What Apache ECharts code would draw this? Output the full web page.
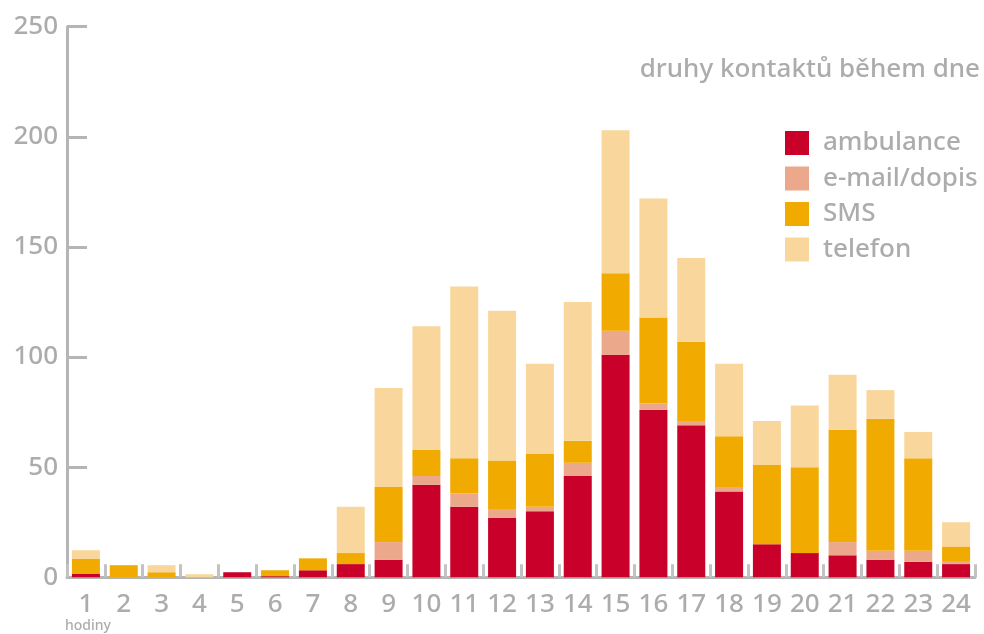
<!DOCTYPE html>
<html>
<head>
<meta charset="utf-8">
<script src="https://cdn.jsdelivr.net/npm/echarts@6/dist/echarts.min.js"></script>
<style>
  html, body { margin: 0; padding: 0; background: #fff; }
  #chart { width: 984px; height: 634px; }
</style>
</head>
<body>
<div id="chart"></div>
<script>
// hodiny 1..24
const hours = ['1', '2', '3', '4', '5', '6', '7', '8', '9', '10', '11', '12',
  '13', '14', '15', '16', '17', '18', '19', '20', '21', '22', '23', '24'];
const ambulance = [1.5, 0, 0, 0, 2.3, 0.5, 3.2, 6, 8, 42, 32, 27, 30, 46, 101, 76, 69, 39, 15, 11, 10, 8, 7, 6];
const email = [0, 0, 0, 0, 0, 0, 0, 0, 8, 4, 6, 4, 2, 6, 11, 3, 2, 2, 0, 0, 6, 4, 5, 1];
const sms = [6.8, 5.5, 2.3, 0, 0, 2.7, 5.4, 5, 25, 12, 16, 22, 24, 10, 26, 39, 36, 23, 36, 39, 51, 60, 42, 7];
const telefon = [4, 0, 3.2, 1.4, 0, 0, 0, 21, 45, 56, 78, 68, 41, 63, 65, 54, 38, 33, 20, 28, 25, 13, 12, 11];
const yTicks = [0, 50, 100, 150, 200, 250];

const grey = '#acacac';
const font = 'Noto Sans';

const chart = echarts.init(document.getElementById('chart'));

const makeSeries = (name, data, color) => ({
  name: name,
  type: 'bar',
  stack: 'total',
  barWidth: 28,
  data: data,
  itemStyle: { color: color },
  emphasis: { disabled: true },
  animation: false
});

const option = {
  animation: false,
  textStyle: { fontFamily: font },
  title: {
    text: 'druhy kontaktů během dne',
    right: 4,
    top: 57,
    padding: 0,
    textStyle: { color: grey, fontSize: 26, fontWeight: 500, fontFamily: font }
  },
  legend: {
    orient: 'vertical',
    left: 785,
    top: 130,
    padding: 0,
    itemWidth: 24,
    itemHeight: 24,
    itemGap: 9.5,
    icon: 'rect',
    selectedMode: false,
    data: ['ambulance', 'e-mail/dopis', 'SMS', 'telefon'],
    textStyle: { color: grey, fontSize: 26, fontWeight: 500, fontFamily: font, padding: [0, 0, 0, 9] }
  },
  grid: {
    left: 67,
    right: 9,
    top: 26.7,
    bottom: 56.7,
    containLabel: false
  },
  xAxis: {
    type: 'category',
    data: hours,
    axisLine: { lineStyle: { color: '#b5b5b5', width: 3 } },
    axisTick: {
      show: true,
      inside: true,
      length: 13,
      alignWithLabel: false,
      lineStyle: { color: '#c2c2c2', width: 3 }
    },
    axisLabel: { color: grey, fontSize: 26, fontWeight: 500, margin: 14, fontFamily: font, interval: 0 }
  },
  yAxis: {
    type: 'value',
    min: yTicks[0],
    max: yTicks[yTicks.length - 1],
    interval: 50,
    splitLine: { show: false },
    axisLine: { show: true, lineStyle: { color: '#b5b5b5', width: 3 } },
    axisTick: {
      show: true,
      inside: true,
      length: 20,
      lineStyle: { color: '#b5b5b5', width: 3 }
    },
    axisLabel: { color: grey, fontSize: 26, fontWeight: 500, margin: 9, fontFamily: font }
  },
  graphic: [
    {
      type: 'text',
      left: 65,
      top: 619,
      style: { text: 'hodiny', fill: grey, fontSize: 14, fontWeight: 500, fontFamily: font }
    }
  ],
  series: [
    makeSeries('ambulance', ambulance, '#c90029'),
    makeSeries('e-mail/dopis', email, '#eca88a'),
    makeSeries('SMS', sms, '#f0aa00'),
    makeSeries('telefon', telefon, '#f9d79c')
  ]
};

chart.setOption(option);
</script>
</body>
</html>
